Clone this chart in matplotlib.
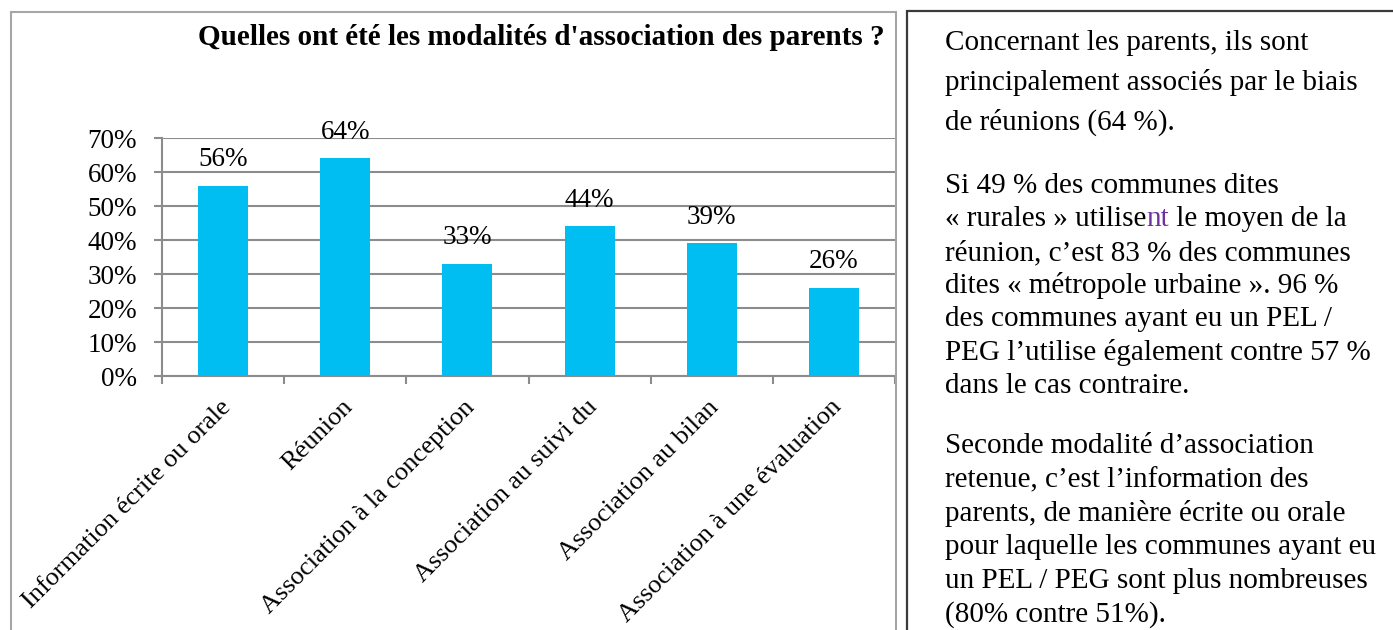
import numpy as np
import matplotlib
matplotlib.use("Agg")
import matplotlib.pyplot as plt
import matplotlib.transforms as mtransforms
from matplotlib.patches import Rectangle
from matplotlib.ticker import PercentFormatter, FixedLocator

plt.rcParams['font.family'] = ['Liberation Serif', 'DejaVu Serif']

# data
categories = ["Information écrite ou orale", "Réunion", "Association à la conception",
              "Association au suivi du", "Association au bilan", "Association à une évaluation"]
values = [0.56, 0.64, 0.33, 0.44, 0.39, 0.26]
yticks = [0, 0.1, 0.2, 0.3, 0.4, 0.5, 0.6, 0.7]
title = "Quelles ont été les modalités d'association des parents ?"

# right hand commentary, one entry per printed line (baseline in px from top)
para_lines = [
    ("Concernant les parents, ils sont", 50),
    ("principalement associés par le biais", 90),
    ("de réunions (64 %).", 130),
    ("Si 49 % des communes dites", 193),
    (None, 226),  # line with the purple "nt", drawn in pieces below
    ("réunion, c’est 83 % des communes", 260),
    ("dites « métropole urbaine ». 96 %", 293),
    ("des communes ayant eu un PEL /", 326),
    ("PEG l’utilise également contre 57 %", 360),
    ("dans le cas contraire.", 393),
    ("Seconde modalité d’association", 453),
    ("retenue, c’est l’information des", 487),
    ("parents, de manière écrite ou orale", 521),
    ("pour laquelle les communes ayant eu", 554),
    ("un PEL / PEG sont plus nombreuses", 588),
    ("(80% contre 51%).", 622),
]
pieces = [("« rurales » utilise", "black"), ("nt", "#7030A0"), (" le moyen de la", "black")]

W, H = 1393, 630
BAR_COLOR = "#00BEF2"
GRID = "#8C8C8C"

fig = plt.figure(figsize=(W / 100, H / 100), dpi=100)

# frames (both run off the bottom of the picture)
fig.patches.append(Rectangle((11 / W, -0.05), (896 - 11) / W, 1.05 - 12 / H, transform=fig.transFigure,
                             fill=False, edgecolor="#A6A6A6", linewidth=1.5, clip_on=False))
fig.patches.append(Rectangle((907 / W, -0.05), 1, 1.05 - 11 / H, transform=fig.transFigure,
                             fill=False, edgecolor="#3A3A3A", linewidth=1.6, clip_on=False))

ax = fig.add_axes([162 / W, (H - 376) / H, (895 - 162) / W, (376 - 138) / H])
x = np.arange(len(categories))
bars = ax.bar(x, values, width=0.41, color=BAR_COLOR, zorder=3)

ax.set_xlim(-0.5, len(categories) - 0.5)
ax.set_ylim(0, 0.7)
ax.set_yticks(yticks)
ax.yaxis.set_major_formatter(PercentFormatter(1.0, decimals=0))
ax.yaxis.grid(True, color=GRID, linewidth=1.5, zorder=0)
ax.set_axisbelow(True)
for s in ["top", "right"]:
    ax.spines[s].set_visible(False)
for s in ["left", "bottom"]:
    ax.spines[s].set_color(GRID)
    ax.spines[s].set_linewidth(1.5)

ax.tick_params(axis="y", length=6, width=1.5, color=GRID, pad=12, labelsize=19.5)
ax.set_xticks(x)
ax.set_xticklabels(categories, rotation=45, ha="right", va="center", rotation_mode="anchor", fontsize=19)
ax.tick_params(axis="x", which="major", length=0, pad=20)
ax.xaxis.set_minor_locator(FixedLocator(np.arange(-0.5, len(categories), 1.0)))
ax.tick_params(axis="x", which="minor", length=6, width=1.5, color=GRID)
shift = mtransforms.ScaledTranslation(4 / 100, 0, fig.dpi_scale_trans)
for lab in ax.get_xticklabels():
    lab.set_transform(lab.get_transform() + shift)

for b, v in zip(bars, values):
    ax.annotate(f"{round(v * 100)}%", (b.get_x() + b.get_width() / 2, v), xytext=(0, 10),
                textcoords="offset points", ha="center", va="bottom", fontsize=19.5)

fig.text(541 / W, 1 - 45 / H, title, ha="center", va="baseline", fontsize=21, fontweight="bold")

# commentary text
x0 = 945 / W
for txt, base in para_lines:
    if txt is not None:
        fig.text(x0, 1 - base / H, txt, ha="left", va="baseline", fontsize=21)

renderer = fig.canvas.get_renderer()
cur = 945
base = 226
for txt, col in pieces:
    t = fig.text(cur / W, 1 - base / H, txt, ha="left", va="baseline", fontsize=21, color=col)
    cur = t.get_window_extent(renderer).x1

fig.savefig("out.png", dpi=100)
